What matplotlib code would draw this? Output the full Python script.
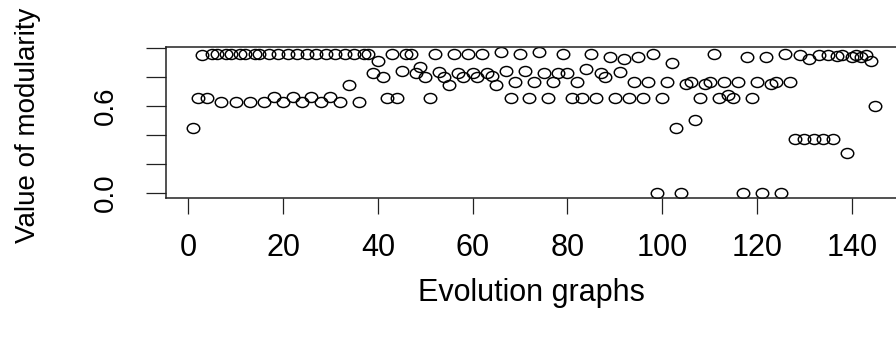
import matplotlib
matplotlib.use("Agg")
import matplotlib.pyplot as plt
from matplotlib.path import Path
import numpy as np

plt.rcParams['font.family'] = ['Liberation Sans', 'DejaVu Sans']

# ---- data ----
evolution_graph = list(range(1, 146))
modularity = [
    0.446, 0.659, 0.953, 0.659, 0.960, 0.960, 0.626, 0.960, 0.960, 0.626,  # 1-10
    0.960, 0.960, 0.626, 0.960, 0.960, 0.626, 0.960, 0.665, 0.960, 0.626,  # 11-20
    0.960, 0.665, 0.960, 0.626, 0.960, 0.665, 0.960, 0.626, 0.960, 0.665,  # 21-30
    0.960, 0.626, 0.960, 0.746, 0.960, 0.626, 0.960, 0.960, 0.831, 0.914,  # 31-40
    0.804, 0.659, 0.960, 0.659, 0.845, 0.960, 0.960, 0.827, 0.872, 0.804,  # 41-50
    0.659, 0.960, 0.838, 0.804, 0.746, 0.960, 0.831, 0.804, 0.960, 0.831,  # 51-60
    0.804, 0.960, 0.831, 0.809, 0.746, 0.972, 0.845, 0.659, 0.769, 0.960,  # 61-70
    0.845, 0.659, 0.769, 0.972, 0.831, 0.659, 0.769, 0.831, 0.960, 0.831,  # 71-80
    0.659, 0.769, 0.659, 0.854, 0.960, 0.659, 0.831, 0.804, 0.937, 0.659,  # 81-90
    0.838, 0.924, 0.659, 0.769, 0.937, 0.659, 0.769, 0.960, 0.000, 0.659,  # 91-100
    0.769, 0.900, 0.446, 0.000, 0.753, 0.769, 0.503, 0.659, 0.753, 0.769,  # 101-110
    0.960, 0.659, 0.769, 0.677, 0.659, 0.769, 0.000, 0.937, 0.659, 0.769,  # 111-120
    0.000, 0.937, 0.753, 0.769, 0.000, 0.960, 0.769, 0.372, 0.952, 0.372,  # 121-130
    0.925, 0.372, 0.952, 0.372, 0.952, 0.372, 0.946, 0.952, 0.277, 0.937,  # 131-140
    0.952, 0.937, 0.952, 0.912, 0.600,                                      # 141-145
]
x_ticks = [0, 20, 40, 60, 80, 100, 120, 140]
x_tick_labels = ["0", "20", "40", "60", "80", "100", "120", "140"]
y_ticks = [0.0, 0.2, 0.4, 0.6, 0.8, 1.0]
y_tick_labels = ["0.0", "", "", "0.6", "", ""]
x_label = "Evolution graphs"
y_label = "Value of modularity"

# ---- figure ----
W, H = 896, 338
fig = plt.figure(figsize=(W / 100, H / 100), dpi=100)
fig.patch.set_facecolor("white")

ax_l, ax_r, ax_t, ax_b = 165.7, 902.7, 46.7, 198.0
ax = fig.add_axes([ax_l / W, 1 - ax_b / H, (ax_r - ax_l) / W, (ax_b - ax_t) / H])

# horizontally stretched open circle (the reference is stretched)
circ = Path.unit_circle()
ellipse = Path(circ.vertices * np.array([1.25, 1.0]), circ.codes)

ax.plot(evolution_graph, modularity, linestyle="none", marker=ellipse,
        markersize=9.0, markerfacecolor="none", markeredgecolor="black",
        markeredgewidth=1.05)

ax.set_xlim(-4.76, 150.76)
ax.set_ylim(-0.0367, 1.011)

for sp in ax.spines.values():
    sp.set_linewidth(1.1)
    sp.set_color("#222222")

ax.set_xticks(x_ticks)
ax.set_xticklabels(x_tick_labels, fontsize=22)
ax.set_yticks(y_ticks)
ax.set_yticklabels(y_tick_labels, fontsize=20, rotation=90, va="center")

ax.tick_params(axis="x", direction="out", length=11.5, width=0.9, pad=14,
               color="#222222")
ax.tick_params(axis="y", direction="out", length=14.4, width=0.9, pad=19,
               color="#222222")

ax.set_xlabel(x_label, fontsize=22)
ax.xaxis.set_label_coords((531 - ax_l) / (ax_r - ax_l), (ax_b - 293) / (ax_b - ax_t))
ax.xaxis.label.set_va("center")

ax.set_ylabel(y_label, fontsize=20)
ax.yaxis.set_label_coords((28 - ax_l) / (ax_r - ax_l), (ax_b - 125) / (ax_b - ax_t))
ax.yaxis.label.set_va("center")

fig.savefig("out.png", dpi=100, facecolor="white")
